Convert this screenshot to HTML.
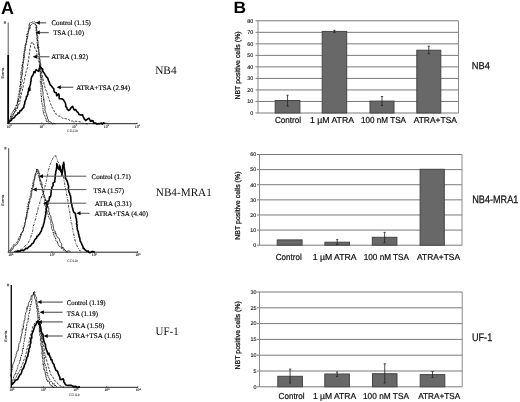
<!DOCTYPE html>
<html><head><meta charset="utf-8"><style>
html,body{margin:0;padding:0;background:#fff;width:520px;height:402px;overflow:hidden}
svg{display:block;filter:grayscale(1) blur(0.25px)}
</style></head><body>
<svg text-rendering="geometricPrecision" width="520" height="402" viewBox="0 0 520 402">
<rect width="520" height="402" fill="#fff"/>
<text x="0.9" y="13.5" textLength="12.9" lengthAdjust="spacingAndGlyphs" style="font-family:'Liberation Sans',sans-serif;font-weight:bold;font-size:18px">A</text>
<text x="233.4" y="13.1" textLength="12.6" lengthAdjust="spacingAndGlyphs" style="font-family:'Liberation Sans',sans-serif;font-weight:bold;font-size:16.5px">B</text>
<line x1="255.5" y1="113.00" x2="458.5" y2="113.00" stroke="#7a7a7a" stroke-width="1"/>
<text x="253.2" y="114.80" text-anchor="end" style="font-family:'Liberation Sans',sans-serif;font-size:5.4px" fill="#111" stroke="#111" stroke-width="0.12">0</text>
<line x1="255.5" y1="101.47" x2="458.5" y2="101.47" stroke="#7a7a7a" stroke-width="1"/>
<text x="253.2" y="103.27" text-anchor="end" style="font-family:'Liberation Sans',sans-serif;font-size:5.4px" fill="#111" stroke="#111" stroke-width="0.12">10</text>
<line x1="255.5" y1="89.95" x2="458.5" y2="89.95" stroke="#7a7a7a" stroke-width="1"/>
<text x="253.2" y="91.75" text-anchor="end" style="font-family:'Liberation Sans',sans-serif;font-size:5.4px" fill="#111" stroke="#111" stroke-width="0.12">20</text>
<line x1="255.5" y1="78.42" x2="458.5" y2="78.42" stroke="#7a7a7a" stroke-width="1"/>
<text x="253.2" y="80.22" text-anchor="end" style="font-family:'Liberation Sans',sans-serif;font-size:5.4px" fill="#111" stroke="#111" stroke-width="0.12">30</text>
<line x1="255.5" y1="66.90" x2="458.5" y2="66.90" stroke="#7a7a7a" stroke-width="1"/>
<text x="253.2" y="68.70" text-anchor="end" style="font-family:'Liberation Sans',sans-serif;font-size:5.4px" fill="#111" stroke="#111" stroke-width="0.12">40</text>
<line x1="255.5" y1="55.38" x2="458.5" y2="55.38" stroke="#7a7a7a" stroke-width="1"/>
<text x="253.2" y="57.17" text-anchor="end" style="font-family:'Liberation Sans',sans-serif;font-size:5.4px" fill="#111" stroke="#111" stroke-width="0.12">50</text>
<line x1="255.5" y1="43.85" x2="458.5" y2="43.85" stroke="#7a7a7a" stroke-width="1"/>
<text x="253.2" y="45.65" text-anchor="end" style="font-family:'Liberation Sans',sans-serif;font-size:5.4px" fill="#111" stroke="#111" stroke-width="0.12">60</text>
<line x1="255.5" y1="32.33" x2="458.5" y2="32.33" stroke="#7a7a7a" stroke-width="1"/>
<text x="253.2" y="34.12" text-anchor="end" style="font-family:'Liberation Sans',sans-serif;font-size:5.4px" fill="#111" stroke="#111" stroke-width="0.12">70</text>
<line x1="255.5" y1="20.80" x2="458.5" y2="20.80" stroke="#7a7a7a" stroke-width="1"/>
<text x="253.2" y="22.60" text-anchor="end" style="font-family:'Liberation Sans',sans-serif;font-size:5.4px" fill="#111" stroke="#111" stroke-width="0.12">80</text>
<line x1="258" y1="20.8" x2="258" y2="113" stroke="#8a8a8a" stroke-width="1"/>
<line x1="458.5" y1="20.8" x2="458.5" y2="113" stroke="#8a8a8a" stroke-width="1"/>
<rect x="275.2" y="100.5" width="24.69999999999999" height="12.5" fill="#686868" stroke="#454545" stroke-width="1"/>
<line x1="287.54999999999995" y1="95.2" x2="287.54999999999995" y2="106" stroke="#222" stroke-width="0.8"/>
<line x1="286.44999999999993" y1="95.2" x2="288.65" y2="95.2" stroke="#222" stroke-width="0.8"/>
<line x1="286.44999999999993" y1="106" x2="288.65" y2="106" stroke="#222" stroke-width="0.8"/>
<rect x="322.2" y="31.4" width="24.5" height="81.6" fill="#686868" stroke="#454545" stroke-width="1"/>
<line x1="334.45" y1="30.3" x2="334.45" y2="32.5" stroke="#222" stroke-width="0.8"/>
<line x1="333.34999999999997" y1="30.3" x2="335.55" y2="30.3" stroke="#222" stroke-width="0.8"/>
<line x1="333.34999999999997" y1="32.5" x2="335.55" y2="32.5" stroke="#222" stroke-width="0.8"/>
<rect x="370" y="101.1" width="24" height="11.900000000000006" fill="#686868" stroke="#454545" stroke-width="1"/>
<line x1="382.0" y1="96.5" x2="382.0" y2="105.5" stroke="#222" stroke-width="0.8"/>
<line x1="380.9" y1="96.5" x2="383.1" y2="96.5" stroke="#222" stroke-width="0.8"/>
<line x1="380.9" y1="105.5" x2="383.1" y2="105.5" stroke="#222" stroke-width="0.8"/>
<rect x="416.8" y="50.2" width="24.0" height="62.8" fill="#686868" stroke="#454545" stroke-width="1"/>
<line x1="428.8" y1="46.2" x2="428.8" y2="53.7" stroke="#222" stroke-width="0.8"/>
<line x1="427.7" y1="46.2" x2="429.90000000000003" y2="46.2" stroke="#222" stroke-width="0.8"/>
<line x1="427.7" y1="53.7" x2="429.90000000000003" y2="53.7" stroke="#222" stroke-width="0.8"/>
<text x="274.9" y="122.5" textLength="26.2" lengthAdjust="spacingAndGlyphs" style="font-family:'Liberation Sans',sans-serif;font-size:8.7px" fill="#111" stroke="#111" stroke-width="0.22">Control</text>
<text x="310.0" y="122.5" textLength="44.0" lengthAdjust="spacingAndGlyphs" style="font-family:'Liberation Sans',sans-serif;font-size:8.7px" fill="#111" stroke="#111" stroke-width="0.22">1 µM ATRA</text>
<text x="361.0" y="122.5" textLength="45.0" lengthAdjust="spacingAndGlyphs" style="font-family:'Liberation Sans',sans-serif;font-size:8.7px" fill="#111" stroke="#111" stroke-width="0.22">100 nM TSA</text>
<text x="413.7" y="122.5" textLength="43.2" lengthAdjust="spacingAndGlyphs" style="font-family:'Liberation Sans',sans-serif;font-size:8.7px" fill="#111" stroke="#111" stroke-width="0.22">ATRA+TSA</text>
<text transform="translate(240.2,99.6) rotate(-90)" textLength="68.3" lengthAdjust="spacingAndGlyphs" style="font-family:'Liberation Sans',sans-serif;font-size:7.1px" fill="#111" stroke="#111" stroke-width="0.25">NBT positive cells (%)</text>
<line x1="257.0" y1="245.20" x2="462" y2="245.20" stroke="#7a7a7a" stroke-width="1"/>
<text x="256.2" y="247.00" text-anchor="end" style="font-family:'Liberation Sans',sans-serif;font-size:5.4px" fill="#111" stroke="#111" stroke-width="0.12">0</text>
<line x1="257.0" y1="230.08" x2="462" y2="230.08" stroke="#7a7a7a" stroke-width="1"/>
<text x="256.2" y="231.88" text-anchor="end" style="font-family:'Liberation Sans',sans-serif;font-size:5.4px" fill="#111" stroke="#111" stroke-width="0.12">10</text>
<line x1="257.0" y1="214.97" x2="462" y2="214.97" stroke="#7a7a7a" stroke-width="1"/>
<text x="256.2" y="216.77" text-anchor="end" style="font-family:'Liberation Sans',sans-serif;font-size:5.4px" fill="#111" stroke="#111" stroke-width="0.12">20</text>
<line x1="257.0" y1="199.85" x2="462" y2="199.85" stroke="#7a7a7a" stroke-width="1"/>
<text x="256.2" y="201.65" text-anchor="end" style="font-family:'Liberation Sans',sans-serif;font-size:5.4px" fill="#111" stroke="#111" stroke-width="0.12">30</text>
<line x1="257.0" y1="184.73" x2="462" y2="184.73" stroke="#7a7a7a" stroke-width="1"/>
<text x="256.2" y="186.53" text-anchor="end" style="font-family:'Liberation Sans',sans-serif;font-size:5.4px" fill="#111" stroke="#111" stroke-width="0.12">40</text>
<line x1="257.0" y1="169.62" x2="462" y2="169.62" stroke="#7a7a7a" stroke-width="1"/>
<text x="256.2" y="171.42" text-anchor="end" style="font-family:'Liberation Sans',sans-serif;font-size:5.4px" fill="#111" stroke="#111" stroke-width="0.12">50</text>
<line x1="257.0" y1="154.50" x2="462" y2="154.50" stroke="#7a7a7a" stroke-width="1"/>
<text x="256.2" y="156.30" text-anchor="end" style="font-family:'Liberation Sans',sans-serif;font-size:5.4px" fill="#111" stroke="#111" stroke-width="0.12">60</text>
<line x1="259.5" y1="154.5" x2="259.5" y2="245.2" stroke="#8a8a8a" stroke-width="1"/>
<line x1="462" y1="154.5" x2="462" y2="245.2" stroke="#8a8a8a" stroke-width="1"/>
<rect x="277.2" y="239.9" width="24.900000000000034" height="5.299999999999983" fill="#686868" stroke="#454545" stroke-width="1"/>
<rect x="324.9" y="242.2" width="24.600000000000023" height="3.0" fill="#686868" stroke="#454545" stroke-width="1"/>
<line x1="337.2" y1="239.6" x2="337.2" y2="244.5" stroke="#222" stroke-width="0.8"/>
<line x1="336.09999999999997" y1="239.6" x2="338.3" y2="239.6" stroke="#222" stroke-width="0.8"/>
<line x1="336.09999999999997" y1="244.5" x2="338.3" y2="244.5" stroke="#222" stroke-width="0.8"/>
<rect x="372.3" y="237.3" width="24.599999999999966" height="7.899999999999977" fill="#686868" stroke="#454545" stroke-width="1"/>
<line x1="384.6" y1="232.4" x2="384.6" y2="242.7" stroke="#222" stroke-width="0.8"/>
<line x1="383.5" y1="232.4" x2="385.70000000000005" y2="232.4" stroke="#222" stroke-width="0.8"/>
<line x1="383.5" y1="242.7" x2="385.70000000000005" y2="242.7" stroke="#222" stroke-width="0.8"/>
<rect x="420.1" y="169.3" width="24.19999999999999" height="75.89999999999998" fill="#686868" stroke="#454545" stroke-width="1"/>
<text x="275.8" y="260.4" textLength="25.9" lengthAdjust="spacingAndGlyphs" style="font-family:'Liberation Sans',sans-serif;font-size:8.7px" fill="#111" stroke="#111" stroke-width="0.22">Control</text>
<text x="312.7" y="260.4" textLength="43.8" lengthAdjust="spacingAndGlyphs" style="font-family:'Liberation Sans',sans-serif;font-size:8.7px" fill="#111" stroke="#111" stroke-width="0.22">1 µM ATRA</text>
<text x="363.8" y="260.4" textLength="45.2" lengthAdjust="spacingAndGlyphs" style="font-family:'Liberation Sans',sans-serif;font-size:8.7px" fill="#111" stroke="#111" stroke-width="0.22">100 nM TSA</text>
<text x="417.1" y="260.4" textLength="42.9" lengthAdjust="spacingAndGlyphs" style="font-family:'Liberation Sans',sans-serif;font-size:8.7px" fill="#111" stroke="#111" stroke-width="0.22">ATRA+TSA</text>
<text transform="translate(240.2,239.8) rotate(-90)" textLength="68.3" lengthAdjust="spacingAndGlyphs" style="font-family:'Liberation Sans',sans-serif;font-size:7.1px" fill="#111" stroke="#111" stroke-width="0.25">NBT positive cells (%)</text>
<line x1="257.0" y1="386.80" x2="462.2" y2="386.80" stroke="#7a7a7a" stroke-width="1"/>
<text x="256.5" y="388.60" text-anchor="end" style="font-family:'Liberation Sans',sans-serif;font-size:5.4px" fill="#111" stroke="#111" stroke-width="0.12">0</text>
<line x1="257.0" y1="371.00" x2="462.2" y2="371.00" stroke="#7a7a7a" stroke-width="1"/>
<text x="256.5" y="372.80" text-anchor="end" style="font-family:'Liberation Sans',sans-serif;font-size:5.4px" fill="#111" stroke="#111" stroke-width="0.12">5</text>
<line x1="257.0" y1="355.20" x2="462.2" y2="355.20" stroke="#7a7a7a" stroke-width="1"/>
<text x="256.5" y="357.00" text-anchor="end" style="font-family:'Liberation Sans',sans-serif;font-size:5.4px" fill="#111" stroke="#111" stroke-width="0.12">10</text>
<line x1="257.0" y1="339.40" x2="462.2" y2="339.40" stroke="#7a7a7a" stroke-width="1"/>
<text x="256.5" y="341.20" text-anchor="end" style="font-family:'Liberation Sans',sans-serif;font-size:5.4px" fill="#111" stroke="#111" stroke-width="0.12">15</text>
<line x1="257.0" y1="323.60" x2="462.2" y2="323.60" stroke="#7a7a7a" stroke-width="1"/>
<text x="256.5" y="325.40" text-anchor="end" style="font-family:'Liberation Sans',sans-serif;font-size:5.4px" fill="#111" stroke="#111" stroke-width="0.12">20</text>
<line x1="257.0" y1="307.80" x2="462.2" y2="307.80" stroke="#7a7a7a" stroke-width="1"/>
<text x="256.5" y="309.60" text-anchor="end" style="font-family:'Liberation Sans',sans-serif;font-size:5.4px" fill="#111" stroke="#111" stroke-width="0.12">25</text>
<line x1="257.0" y1="292.00" x2="462.2" y2="292.00" stroke="#7a7a7a" stroke-width="1"/>
<text x="256.5" y="293.80" text-anchor="end" style="font-family:'Liberation Sans',sans-serif;font-size:5.4px" fill="#111" stroke="#111" stroke-width="0.12">30</text>
<line x1="259.5" y1="292" x2="259.5" y2="386.8" stroke="#8a8a8a" stroke-width="1"/>
<line x1="462.2" y1="292" x2="462.2" y2="386.8" stroke="#8a8a8a" stroke-width="1"/>
<rect x="277.8" y="376.3" width="24.599999999999966" height="10.5" fill="#686868" stroke="#454545" stroke-width="1"/>
<line x1="290.1" y1="369.1" x2="290.1" y2="383" stroke="#222" stroke-width="0.8"/>
<line x1="289.0" y1="369.1" x2="291.20000000000005" y2="369.1" stroke="#222" stroke-width="0.8"/>
<line x1="289.0" y1="383" x2="291.20000000000005" y2="383" stroke="#222" stroke-width="0.8"/>
<rect x="324.8" y="374" width="24.599999999999966" height="12.800000000000011" fill="#686868" stroke="#454545" stroke-width="1"/>
<line x1="337.1" y1="372" x2="337.1" y2="376.5" stroke="#222" stroke-width="0.8"/>
<line x1="336.0" y1="372" x2="338.20000000000005" y2="372" stroke="#222" stroke-width="0.8"/>
<line x1="336.0" y1="376.5" x2="338.20000000000005" y2="376.5" stroke="#222" stroke-width="0.8"/>
<rect x="372.5" y="373.7" width="24.5" height="13.100000000000023" fill="#686868" stroke="#454545" stroke-width="1"/>
<line x1="384.75" y1="363.8" x2="384.75" y2="383" stroke="#222" stroke-width="0.8"/>
<line x1="383.65" y1="363.8" x2="385.85" y2="363.8" stroke="#222" stroke-width="0.8"/>
<line x1="383.65" y1="383" x2="385.85" y2="383" stroke="#222" stroke-width="0.8"/>
<rect x="420.2" y="374.6" width="24.600000000000023" height="12.199999999999989" fill="#686868" stroke="#454545" stroke-width="1"/>
<line x1="432.5" y1="371.5" x2="432.5" y2="377.5" stroke="#222" stroke-width="0.8"/>
<line x1="431.4" y1="371.5" x2="433.6" y2="371.5" stroke="#222" stroke-width="0.8"/>
<line x1="431.4" y1="377.5" x2="433.6" y2="377.5" stroke="#222" stroke-width="0.8"/>
<text x="278.6" y="399.4" textLength="26.0" lengthAdjust="spacingAndGlyphs" style="font-family:'Liberation Sans',sans-serif;font-size:8.7px" fill="#111" stroke="#111" stroke-width="0.22">Control</text>
<text x="313.0" y="399.4" textLength="43.2" lengthAdjust="spacingAndGlyphs" style="font-family:'Liberation Sans',sans-serif;font-size:8.7px" fill="#111" stroke="#111" stroke-width="0.22">1 µM ATRA</text>
<text x="363" y="399.4" textLength="46.0" lengthAdjust="spacingAndGlyphs" style="font-family:'Liberation Sans',sans-serif;font-size:8.7px" fill="#111" stroke="#111" stroke-width="0.22">100 nM TSA</text>
<text x="418.2" y="399.4" textLength="42.1" lengthAdjust="spacingAndGlyphs" style="font-family:'Liberation Sans',sans-serif;font-size:8.7px" fill="#111" stroke="#111" stroke-width="0.22">ATRA+TSA</text>
<text transform="translate(240.2,369.5) rotate(-90)" textLength="68.3" lengthAdjust="spacingAndGlyphs" style="font-family:'Liberation Sans',sans-serif;font-size:7.1px" fill="#111" stroke="#111" stroke-width="0.25">NBT positive cells (%)</text>
<text x="471.8" y="69.3" textLength="18.2" lengthAdjust="spacingAndGlyphs" style="font-family:'Liberation Sans',sans-serif;font-size:9.95px" fill="#111" stroke="#111" stroke-width="0.25">NB4</text>
<text x="472.2" y="202.8" textLength="46.2" lengthAdjust="spacingAndGlyphs" style="font-family:'Liberation Sans',sans-serif;font-size:10.8px" fill="#111" stroke="#111" stroke-width="0.25">NB4-MRA1</text>
<text x="472.0" y="340.9" textLength="20.2" lengthAdjust="spacingAndGlyphs" style="font-family:'Liberation Sans',sans-serif;font-size:11px" fill="#111" stroke="#111" stroke-width="0.25">UF-1</text>
<line x1="8.2" y1="22.5" x2="8.2" y2="123.7" stroke="#555" stroke-width="1.0"/>
<line x1="7.199999999999999" y1="123.7" x2="137.3" y2="123.7" stroke="#222" stroke-width="1"/>
<text x="9.200000000000001" y="127.60000000000001" text-anchor="middle" style="font-family:'Liberation Serif',serif;font-size:3.8px" fill="#111" stroke="#111" stroke-width="0.1">10<tspan dy="-1.3" font-size="2.6px">0</tspan></text>
<line x1="8.9" y1="123.7" x2="8.9" y2="122.4" stroke="#222" stroke-width="0.6"/>
<text x="42.0" y="127.60000000000001" text-anchor="middle" style="font-family:'Liberation Serif',serif;font-size:3.8px" fill="#111" stroke="#111" stroke-width="0.1">10<tspan dy="-1.3" font-size="2.6px">1</tspan></text>
<line x1="41.7" y1="123.7" x2="41.7" y2="122.4" stroke="#222" stroke-width="0.6"/>
<text x="74.5" y="127.60000000000001" text-anchor="middle" style="font-family:'Liberation Serif',serif;font-size:3.8px" fill="#111" stroke="#111" stroke-width="0.1">10<tspan dy="-1.3" font-size="2.6px">2</tspan></text>
<line x1="74.2" y1="123.7" x2="74.2" y2="122.4" stroke="#222" stroke-width="0.6"/>
<text x="106.3" y="127.60000000000001" text-anchor="middle" style="font-family:'Liberation Serif',serif;font-size:3.8px" fill="#111" stroke="#111" stroke-width="0.1">10<tspan dy="-1.3" font-size="2.6px">3</tspan></text>
<line x1="106" y1="123.7" x2="106" y2="122.4" stroke="#222" stroke-width="0.6"/>
<text x="137.3" y="127.60000000000001" text-anchor="middle" style="font-family:'Liberation Serif',serif;font-size:3.8px" fill="#111" stroke="#111" stroke-width="0.1">10<tspan dy="-1.3" font-size="2.6px">4</tspan></text>
<line x1="137" y1="123.7" x2="137" y2="122.4" stroke="#222" stroke-width="0.6"/>
<text x="72.5" y="132" text-anchor="middle" style="font-family:'Liberation Sans',sans-serif;font-size:3.6px" fill="#222">CD11b</text>
<text transform="translate(3.499999999999999,73.1) rotate(-90)" text-anchor="middle" style="font-family:'Liberation Sans',sans-serif;font-size:3.6px" fill="#111" stroke="#111" stroke-width="0.1">Events</text>
<rect x="3.799999999999999" y="21.2" width="2.2" height="2.6" fill="#777"/>
<line x1="8.2" y1="55" x2="8.2" y2="123.7" stroke="#000" stroke-width="1.7"/>
<polyline points="10.0,122.0 10.5,120.4 10.9,119.7 10.9,119.3 12.0,116.9 11.8,116.5 12.5,117.1 13.0,115.7 13.2,114.3 14.3,113.3 14.7,112.1 14.6,111.4 15.5,110.6 15.4,108.6 16.2,108.8 17.0,107.5 17.5,106.5 17.8,104.8 18.1,103.9 17.6,103.8 17.9,101.2 18.3,102.0 18.4,100.3 18.7,99.0 19.1,97.7 19.6,97.2 19.7,96.4 20.0,95.8 19.4,94.4 20.3,93.8 20.1,92.9 19.9,91.5 20.4,90.7 20.1,88.5 21.1,88.8 21.1,86.1 20.6,85.8 21.3,84.5 20.8,84.8 21.0,83.3 21.4,82.5 22.1,81.8 22.2,80.0 21.5,78.6 21.5,78.2 21.9,76.3 21.7,76.2 22.4,74.0 22.6,73.6 22.1,73.9 22.3,71.9 22.5,71.3 22.6,70.1 22.6,70.0 22.9,67.8 22.7,66.4 23.0,67.1 22.6,65.1 23.3,63.8 23.4,61.9 23.0,62.3 23.5,61.3 23.5,60.4 24.0,59.5 23.6,56.9 24.5,57.4 24.2,55.5 24.2,55.2 24.3,53.7 24.7,52.7 24.7,51.6 24.5,51.6 25.3,50.2 25.0,48.6 25.2,48.7 25.5,46.3 25.4,46.4 25.8,44.6 26.1,44.7 26.1,43.8 26.7,41.6 26.7,41.8 26.6,39.4 26.9,39.1 27.6,38.7 27.3,36.3 27.8,36.7 27.8,35.7 28.0,33.1 28.2,33.5 28.5,31.5 28.8,30.6 28.8,30.7 29.7,27.6 30.0,28.5 30.2,26.5 29.8,26.5 30.6,25.0 31.7,24.5 32.9,23.3 33.7,23.3 34.9,24.1 35.8,24.7 36.5,25.9 36.7,26.9 36.5,27.9 36.8,26.9 36.5,28.3 36.7,30.4 37.2,30.8 36.8,32.2 37.3,32.5 37.4,33.9 37.0,34.7 37.6,36.1 37.7,36.3 37.8,38.9 37.2,39.7 38.1,40.3 37.7,40.0 38.0,41.5 38.1,42.8 37.8,44.6 38.0,44.0 38.0,45.2 38.8,48.0 38.6,47.1 38.5,48.6 38.9,49.7 38.8,51.2 38.8,51.3 39.2,52.2 39.1,54.5 39.1,54.1 39.6,55.7 39.5,57.6 39.8,58.7 39.7,58.8 40.1,60.0 40.3,60.8 40.0,61.9 40.5,63.1 40.3,63.1 40.8,64.8 40.4,67.0 40.9,67.9 40.6,67.5 41.0,68.2 41.2,70.4 41.1,71.6 41.1,72.5 41.2,72.1 40.8,72.9 40.8,75.6 40.9,75.1 41.1,77.8 41.8,77.0 41.8,78.2 41.9,80.4 41.8,82.0 41.4,82.7 41.9,83.6 41.7,84.6 42.5,85.6 42.1,85.2 42.6,87.3 42.2,87.6 42.7,88.6 42.6,90.8 42.7,90.9 42.8,91.9 43.0,92.3 43.0,95.3 42.9,95.8 43.6,96.7 43.5,97.7 43.7,98.3 43.4,100.2 44.0,99.5 44.0,102.3 44.3,102.2 44.0,102.7 44.4,103.7 44.2,105.0 45.0,106.8 44.9,107.0 45.2,108.3 44.9,109.8 44.9,110.0 45.5,111.7 45.6,112.1 46.2,113.5 46.6,114.2 46.7,116.0 47.4,117.0 47.6,118.9 48.2,119.2 48.4,121.1 49.7,121.6 49.8,121.7 50.9,122.0 51.9,123.7 52.5,124.3 53.8,123.1 55.3,124.0" fill="none" stroke="#1a1a1a" stroke-width="0.8"/>
<polyline points="9.0,121.0 9.6,119.2 10.1,119.7 10.5,117.3 10.5,116.3 10.6,116.2 11.6,113.7 11.8,113.2 12.7,112.9 13.0,110.7 13.8,110.8 14.4,109.3 14.7,109.9 14.9,108.1 15.9,106.5 16.5,105.1 16.1,105.9 16.6,104.9 17.2,103.5 17.4,101.4 17.8,101.1 18.0,99.2 18.2,99.7 17.8,97.7 18.2,96.6 18.7,96.1 18.4,94.7 19.0,93.8 19.4,91.7 18.9,91.7 19.1,91.3 19.8,88.9 19.8,88.5 19.9,87.6 19.8,85.8 20.5,84.2 20.5,84.7 20.4,83.6 20.5,81.5 20.2,81.8 20.5,79.9 20.6,79.5 20.7,77.5 21.1,76.9 21.2,75.4 20.7,73.8 20.7,72.8 21.4,73.2 21.1,70.9 21.7,70.4 21.9,70.2 21.5,68.7 21.7,67.2 22.2,66.4 22.0,64.7 22.0,64.9 22.9,64.0 22.6,63.3 22.9,61.4 23.4,60.6 23.0,59.7 23.3,59.1 23.6,57.5 23.8,55.2 23.7,55.7 23.8,54.4 24.0,52.6 24.2,51.3 24.3,51.6 24.9,50.4 24.3,50.2 24.9,48.9 24.9,46.3 24.8,45.7 25.7,45.3 25.9,43.8 25.4,43.6 26.0,43.0 26.3,42.1 26.1,40.7 26.9,39.8 26.6,38.9 26.8,37.6 26.6,35.2 27.0,34.1 27.4,33.3 27.6,33.4 28.0,31.8 28.0,30.6 28.2,30.6 28.9,28.4 28.6,28.6 29.0,26.8 29.0,26.4 29.2,24.1 29.4,24.8 29.6,23.1 30.6,22.4 31.7,22.7 32.7,21.8 34.0,22.1 34.6,21.8 35.9,22.7 35.6,24.3 36.0,24.6 36.5,24.8 35.8,26.3 35.9,27.9 36.1,29.2 35.9,29.2 36.2,31.5 36.4,32.6 36.4,34.0 36.5,33.4 36.9,35.7 36.5,35.7 37.3,37.4 36.6,38.2 36.7,38.0 36.8,39.3 37.4,40.0 37.1,42.9 37.4,44.0 37.9,44.7 37.2,46.0 37.8,45.6 37.4,48.0 38.2,47.5 38.0,48.2 38.4,49.6 38.1,51.9 38.8,52.5 38.8,53.7 38.8,54.9 38.8,54.8 39.2,56.6 39.1,56.5 39.5,58.5 39.4,59.5 39.3,60.0 39.2,61.5 39.9,61.9 39.4,63.4 40.1,63.4 40.2,65.3 39.8,66.8 40.1,67.9 39.9,67.6 40.0,68.1 39.8,71.0 39.8,71.2 40.3,71.1 39.9,72.4 40.5,73.2 40.0,75.2 40.9,75.4 40.6,76.4 40.8,77.9 40.8,79.4 40.3,80.3 40.3,80.6 40.4,83.1 41.2,82.4 41.1,83.8 40.8,84.6 41.1,86.0 41.0,88.0 41.3,89.3 41.1,89.4 40.7,90.6 41.2,92.5 40.9,93.4 41.2,93.8 40.9,95.3 41.4,95.4 41.5,95.8 41.4,98.3 41.6,99.1 41.5,99.2 41.6,102.0 41.6,101.8 41.8,102.4 42.4,105.0 42.8,106.0 42.9,106.5 42.6,107.4 43.2,109.3 43.0,110.4 43.1,111.1 43.8,112.6 44.1,112.0 43.6,112.8 44.0,115.0 44.6,115.5 44.9,115.5 45.1,117.1 45.8,118.3 45.9,120.2 46.4,119.9 46.6,121.6 48.2,121.8 49.4,123.7 50.0,124.0" fill="none" stroke="#000" stroke-width="1" stroke-dasharray="1 0.8"/>
<polyline points="10.1,117.0 11.2,116.7 11.8,115.0 12.9,114.1 13.8,113.4 14.7,112.3 15.2,111.2 16.1,110.9 16.6,109.2 17.2,108.9 17.9,106.8 18.2,106.1 18.8,104.3 19.4,103.9 20.0,103.0 19.9,101.8 20.1,99.6 20.5,98.7 20.8,97.0 20.9,95.8 21.4,94.8 21.4,93.8 21.7,92.1 22.1,91.6 22.4,90.7 22.4,88.7 22.9,88.1 23.2,86.6 23.2,85.4 23.3,83.7 23.9,83.1 24.0,82.1 24.4,80.6 24.5,79.6 24.7,77.9 24.8,76.4 25.5,75.8 25.4,74.5 25.7,73.0 26.0,72.4 26.2,71.4 26.7,69.4 27.2,68.4 27.6,67.7 27.4,66.1 27.8,64.8 27.9,63.3 28.3,62.3 28.4,60.3 28.5,59.3 28.9,58.6 28.8,57.0 28.9,56.0 29.4,54.1 29.3,52.7 29.8,52.1 29.8,50.1 29.8,48.7 30.5,47.3 30.5,45.7 30.7,44.4 31.3,43.4 32.4,41.9 33.2,43.8 34.0,44.3 34.1,45.2 34.5,46.8 34.8,48.1 35.7,49.1 36.1,50.4 36.6,51.9 36.9,53.9 37.0,54.7 37.4,56.9 38.2,57.6 38.1,59.8 38.7,61.2 38.8,61.9 39.6,63.2 39.5,64.4 39.8,65.6 40.5,67.1 40.4,68.1 41.1,70.4 41.0,71.7 41.6,72.3 41.8,73.7 41.8,74.8 42.4,76.1 42.6,77.8 42.9,78.7 43.2,79.9 43.4,81.6 44.0,82.6 43.9,84.1 44.6,85.5 44.6,85.8 44.9,87.1 45.5,89.4 45.8,90.5 46.6,90.8 47.1,93.1 47.3,94.2 47.5,95.6 48.1,96.6 48.6,97.5 49.0,99.0 49.3,100.3 49.9,101.6 50.5,103.7 50.9,104.8 51.5,105.2 51.6,106.3 52.4,107.7 52.9,108.6 53.6,109.6 53.9,110.9 54.7,112.0 55.3,113.6 56.2,113.9 57.0,114.5 58.5,116.2 60.0,116.0 61.5,117.3 62.6,118.2 64.1,118.6 65.3,118.5 66.2,119.0 67.5,118.6 68.7,119.5 70.2,120.7 71.2,121.0 72.7,121.0 74.0,121.8 75.6,121.2 76.9,121.4 78.8,121.7 80.1,121.7 81.4,122.6 82.5,123.2 83.6,123.4 85.1,123.9 86.8,123.7 88.0,124.0" fill="none" stroke="#222" stroke-width="0.9" stroke-dasharray="2.5 1.3"/>
<polyline points="8.9,122.5 9.9,120.9 11.4,120.5 12.2,118.4 13.5,118.0 14.5,117.5 15.5,115.4 16.5,114.9 17.5,114.2 18.0,112.9 19.3,112.9 20.1,110.5 21.3,110.7 22.6,108.4 23.3,107.8 23.9,107.3 24.0,105.1 24.7,104.1 24.8,102.1 25.4,100.5 26.0,99.2 26.2,98.8 26.4,96.8 27.2,96.3 27.3,95.2 27.9,94.7 27.9,92.5 28.6,90.6 28.6,88.9 28.7,88.2 29.8,90.4 29.9,89.2 29.6,86.7 30.0,85.7 30.5,83.9 30.7,82.5 30.6,82.4 31.0,81.0 31.2,78.5 31.7,76.8 32.2,75.8 32.7,75.8 33.5,73.5 34.0,71.5 35.1,72.6 35.2,71.6 35.9,70.2 36.2,69.6 37.3,70.6 38.7,71.3 39.1,69.2 39.4,68.3 39.8,67.4 39.8,65.9 41.1,67.6 41.7,68.3 42.7,69.1 42.7,71.1 43.7,72.5 44.2,73.1 45.2,74.8 46.0,76.3 47.0,77.5 47.7,78.0 48.5,80.8 49.2,81.8 49.5,83.1 50.2,84.8 51.2,85.7 53.0,88.1 53.8,88.7 54.0,90.8 54.7,92.3 55.9,92.7 56.4,92.7 56.5,95.0 56.9,95.8 58.0,94.4 58.7,93.9 59.0,94.5 59.2,96.2 59.1,97.3 59.2,98.6 60.5,98.8 62.2,98.9 63.7,100.1 64.8,102.0 65.7,104.0 65.7,106.0 65.7,106.6 66.7,107.4 67.4,109.4 68.5,110.4 69.2,110.1 69.9,109.7 70.9,107.9 72.6,106.3 73.7,109.0 74.5,110.1 75.8,109.6 76.9,111.6 78.0,112.4 78.5,113.5 79.1,114.5 81.0,115.1 82.6,114.8 83.1,116.6 83.8,117.7 84.3,119.0 85.2,119.7 85.5,120.6 87.3,119.3 88.9,118.3 89.9,119.8 90.7,121.4 91.5,120.6 93.2,120.9 93.8,123.4 95.7,123.0 96.6,123.9 97.6,123.9 99.1,123.6 100.0,123.7 101.5,123.0 102.4,124.2 103.5,122.8 105.0,123.6" fill="none" stroke="#000" stroke-width="1.6" stroke-linejoin="round"/>
<line x1="38.6" y1="22.8" x2="46.2" y2="22.8" stroke="#6a6a6a" stroke-width="1.3"/>
<polygon points="35.6,22.8 39.800000000000004,20.8 39.800000000000004,24.8" fill="#000"/>
<text x="51.5" y="24.8" textLength="39.4" lengthAdjust="spacingAndGlyphs" style="font-family:'Liberation Serif',serif;font-size:7px" fill="#000" stroke="#000" stroke-width="0.15">Control (1.15)</text>
<line x1="38.6" y1="32.6" x2="48.8" y2="32.6" stroke="#6a6a6a" stroke-width="1.3"/>
<polygon points="35.6,32.6 39.800000000000004,30.6 39.800000000000004,34.6" fill="#000"/>
<text x="53.2" y="34.8" textLength="30.9" lengthAdjust="spacingAndGlyphs" style="font-family:'Liberation Serif',serif;font-size:7px" fill="#000" stroke="#000" stroke-width="0.15">TSA (1.10)</text>
<line x1="35.7" y1="56.7" x2="49.5" y2="56.7" stroke="#6a6a6a" stroke-width="1.3"/>
<polygon points="32.7,56.7 36.900000000000006,54.7 36.900000000000006,58.7" fill="#000"/>
<text x="51.3" y="58.6" textLength="36.8" lengthAdjust="spacingAndGlyphs" style="font-family:'Liberation Serif',serif;font-size:7px" fill="#000" stroke="#000" stroke-width="0.15">ATRA (1.92)</text>
<line x1="59.6" y1="87.3" x2="73.4" y2="87.3" stroke="#6a6a6a" stroke-width="1.3"/>
<polygon points="56.6,87.3 60.800000000000004,85.3 60.800000000000004,89.3" fill="#000"/>
<text x="76.2" y="89.5" textLength="53.8" lengthAdjust="spacingAndGlyphs" style="font-family:'Liberation Serif',serif;font-size:7px" fill="#000" stroke="#000" stroke-width="0.15">ATRA+TSA (2.94)</text>
<text x="155.2" y="73.7" textLength="21.4" lengthAdjust="spacingAndGlyphs" style="font-family:'Liberation Serif',serif;font-size:11.5px" fill="#111" >NB4</text>
<line x1="8.7" y1="148.2" x2="8.7" y2="252.2" stroke="#444" stroke-width="1.0"/>
<line x1="7.699999999999999" y1="252.2" x2="138" y2="252.2" stroke="#222" stroke-width="1"/>
<text x="10.700000000000001" y="256.09999999999997" text-anchor="middle" style="font-family:'Liberation Serif',serif;font-size:3.8px" fill="#111" stroke="#111" stroke-width="0.1">10<tspan dy="-1.3" font-size="2.6px">0</tspan></text>
<line x1="10.4" y1="252.2" x2="10.4" y2="250.89999999999998" stroke="#222" stroke-width="0.6"/>
<text x="52.3" y="256.09999999999997" text-anchor="middle" style="font-family:'Liberation Serif',serif;font-size:3.8px" fill="#111" stroke="#111" stroke-width="0.1">10<tspan dy="-1.3" font-size="2.6px">1</tspan></text>
<line x1="52" y1="252.2" x2="52" y2="250.89999999999998" stroke="#222" stroke-width="0.6"/>
<text x="94.3" y="256.09999999999997" text-anchor="middle" style="font-family:'Liberation Serif',serif;font-size:3.8px" fill="#111" stroke="#111" stroke-width="0.1">10<tspan dy="-1.3" font-size="2.6px">2</tspan></text>
<line x1="94" y1="252.2" x2="94" y2="250.89999999999998" stroke="#222" stroke-width="0.6"/>
<text x="138.0" y="256.09999999999997" text-anchor="middle" style="font-family:'Liberation Serif',serif;font-size:3.8px" fill="#111" stroke="#111" stroke-width="0.1">10<tspan dy="-1.3" font-size="2.6px">3</tspan></text>
<line x1="137.7" y1="252.2" x2="137.7" y2="250.89999999999998" stroke="#222" stroke-width="0.6"/>
<text x="72.8" y="261.5" text-anchor="middle" style="font-family:'Liberation Sans',sans-serif;font-size:3.6px" fill="#222">CD11b</text>
<text transform="translate(3.999999999999999,200.2) rotate(-90)" text-anchor="middle" style="font-family:'Liberation Sans',sans-serif;font-size:3.6px" fill="#111" stroke="#111" stroke-width="0.1">Events</text>
<rect x="4.299999999999999" y="146.89999999999998" width="2.2" height="2.6" fill="#777"/>
<polyline points="9.5,250.2 10.2,249.9 11.4,248.3 11.5,247.7 12.1,246.9 13.4,245.3 13.6,244.3 14.6,244.3 15.1,244.5 16.1,243.2 16.9,242.3 17.5,241.1 18.4,239.2 18.7,239.6 19.2,237.4 19.6,236.2 20.3,236.4 20.5,235.5 20.7,233.2 21.3,232.8 21.8,232.3 22.5,231.6 23.1,230.4 23.1,229.0 23.1,227.5 23.8,227.6 24.5,225.0 24.5,225.1 24.3,223.8 24.6,224.0 25.6,221.6 25.4,220.1 25.4,219.9 25.8,219.8 26.0,216.8 26.4,215.8 26.7,216.7 26.6,213.9 26.5,213.5 26.5,212.5 26.9,211.1 27.3,210.0 27.5,208.9 26.8,208.2 27.3,208.4 27.4,207.5 27.3,206.2 27.9,205.3 27.7,205.0 28.6,202.0 28.6,202.9 29.0,201.5 29.2,199.7 29.1,199.1 30.0,197.5 30.1,196.3 30.3,195.3 30.8,195.1 30.8,194.7 30.9,192.0 31.1,190.6 31.6,190.7 31.5,188.9 31.7,187.6 32.0,187.4 32.5,187.2 32.6,184.9 33.1,183.2 33.0,183.7 33.1,182.6 33.3,180.5 33.9,179.3 34.2,179.3 34.4,177.0 34.3,176.9 34.6,175.9 34.9,174.3 35.4,174.3 35.2,173.9 36.0,172.9 36.4,171.5 36.5,169.2 36.3,169.9 37.4,170.4 37.8,170.9 37.8,173.4 37.9,172.8 38.4,175.4 38.7,175.3 38.9,177.8 39.8,176.8 39.5,178.5 39.7,180.9 40.5,180.0 40.1,181.3 40.4,183.8 40.7,184.7 40.9,184.4 41.4,185.9 41.6,186.6 42.1,187.4 42.3,189.9 41.9,190.7 42.3,190.5 43.2,191.3 43.3,194.0 42.9,194.3 43.0,195.0 43.5,197.1 44.3,196.8 44.4,197.6 44.4,198.9 44.8,199.4 44.4,201.0 44.8,202.6 44.6,202.7 44.6,204.4 45.1,206.0 45.2,205.5 45.5,206.3 45.9,208.2 46.1,208.7 46.8,210.1 47.1,210.9 46.9,212.0 47.8,212.3 47.7,213.9 48.5,215.0 48.4,215.6 48.4,216.6 49.1,217.9 49.4,218.8 50.0,219.7 50.5,220.0 50.7,220.9 50.9,222.1 50.5,223.4 51.4,225.0 51.7,226.8 51.3,228.1 51.6,227.9 52.2,229.8 52.8,230.8 53.1,232.4 53.3,233.2 54.0,232.5 53.6,233.6 54.2,236.3 54.3,237.0 55.3,237.1 55.6,237.6 55.8,240.5 56.7,241.0 57.2,241.7 57.0,242.8 57.9,242.6 58.2,245.2 58.7,245.2 59.5,246.6 60.3,246.8 60.9,246.8 61.7,249.0 61.9,248.5 63.2,249.0 63.5,250.3 64.9,250.8 65.7,250.8 67.1,252.2 68.0,252.0" fill="none" stroke="#000" stroke-width="1" stroke-dasharray="1 0.8"/>
<polyline points="10.0,251.0 10.4,249.8 11.7,250.4 12.2,249.0 12.9,249.0 13.5,246.5 14.8,245.9 16.0,245.1 16.5,244.8 17.2,244.0 17.7,243.0 18.3,241.9 18.6,241.6 19.3,240.6 19.5,239.8 20.3,238.0 20.5,237.5 20.8,235.5 21.7,235.1 21.7,232.9 22.7,232.3 22.7,231.9 23.1,230.5 23.5,230.7 23.6,227.9 23.6,228.0 24.1,227.6 24.6,225.5 24.7,225.2 25.0,224.8 24.9,222.7 25.4,222.1 25.6,221.1 25.5,218.9 25.8,218.2 26.4,218.8 26.8,216.4 26.4,216.3 26.8,215.6 26.9,215.1 27.2,212.5 27.8,212.8 27.4,211.2 28.1,209.8 28.5,208.0 28.7,208.8 28.6,207.4 28.5,207.0 28.6,204.6 29.4,203.3 29.6,202.1 29.9,201.8 30.0,201.6 29.6,200.8 30.2,198.5 30.7,197.8 31.0,197.8 31.2,196.9 31.3,194.7 31.8,194.5 31.6,192.7 31.7,192.3 31.7,191.8 32.3,190.3 32.6,188.3 33.1,187.9 33.0,187.8 33.4,186.8 33.6,184.3 33.9,184.7 33.6,183.6 34.1,181.4 34.4,180.4 34.6,180.2 34.4,178.7 34.9,178.9 35.1,176.7 35.4,175.9 35.3,175.0 36.1,175.1 35.8,173.6 36.5,171.3 36.6,171.7 37.3,169.4 37.7,169.1 38.2,170.2 38.8,171.3 38.7,173.1 39.6,173.2 39.4,174.3 39.2,175.8 39.9,176.6 39.8,177.2 39.8,178.3 40.1,179.1 40.8,180.9 41.0,180.9 41.0,181.7 41.6,182.3 41.7,184.6 42.0,184.1 42.1,184.9 41.9,187.0 42.8,187.8 42.6,189.3 42.9,190.7 43.2,191.9 43.9,191.1 43.5,192.1 43.7,194.6 44.6,195.1 44.4,196.2 45.0,197.6 45.1,198.2 45.2,198.6 45.9,201.1 45.6,199.9 46.5,201.5 46.3,202.4 46.6,204.7 47.2,206.2 47.9,207.1 48.2,206.6 48.1,208.1 48.9,208.3 48.7,210.4 48.8,212.1 48.9,212.2 49.8,213.0 49.4,214.4 50.0,214.8 50.4,215.9 50.8,216.4 51.1,218.6 50.8,218.9 51.6,219.5 51.5,220.1 52.5,222.7 52.8,223.9 53.1,224.3 53.1,225.7 52.9,226.2 53.4,226.5 53.5,228.4 54.2,230.6 54.7,231.1 55.2,231.1 55.0,233.8 55.9,233.1 56.3,235.9 56.6,236.0 56.8,236.2 57.8,237.7 58.6,237.9 59.2,238.6 59.6,239.9 60.2,242.2 60.6,242.5 61.2,243.2 61.8,243.8 61.6,246.0 62.4,247.8 62.9,247.0 63.4,248.0 65.0,250.2 65.8,250.7 66.6,251.8 67.3,251.1 68.6,250.8 69.8,251.1 70.7,252.0" fill="none" stroke="#1a1a1a" stroke-width="0.8"/>
<polyline points="14.0,251.7 15.2,251.2 16.4,251.2 17.4,250.4 18.6,250.7 20.1,250.4 21.2,249.1 22.4,248.5 23.4,247.5 24.3,246.7 25.4,245.6 26.3,244.6 27.3,244.2 27.9,243.2 28.7,241.9 29.0,241.1 30.1,239.0 30.5,238.1 30.9,236.9 31.4,235.2 31.9,234.4 32.1,232.9 32.5,231.6 32.8,230.3 33.1,228.3 33.0,227.7 33.2,226.3 33.9,224.7 34.3,224.1 34.3,222.2 34.9,221.2 35.1,220.4 35.6,219.2 36.0,217.4 36.2,216.0 36.3,214.9 36.8,214.1 37.0,213.0 37.5,212.2 37.5,210.1 38.0,209.9 38.1,207.6 38.4,207.1 39.0,205.6 39.3,204.4 39.6,203.9 39.9,202.3 40.2,200.8 40.6,200.0 41.1,198.6 41.5,197.0 41.6,196.8 42.5,194.7 42.9,193.2 42.9,192.6 43.3,191.4 43.9,190.4 44.5,189.3 44.7,187.2 45.2,186.1 45.2,184.8 45.8,183.6 45.8,182.5 46.2,181.5 46.6,180.3 46.6,178.9 46.8,178.3 47.3,176.2 47.6,175.1 47.7,174.3 47.8,172.4 48.2,171.8 48.4,169.8 49.0,168.4 49.1,167.0 49.5,166.3 49.9,165.0 50.6,163.4 50.9,163.1 51.5,161.1 51.7,159.9 52.6,159.4 52.8,158.2 53.4,157.6 54.6,155.7 55.2,155.1 55.8,155.4 55.9,157.0 56.8,158.7 57.0,159.1 57.5,161.3 58.1,161.8 58.9,163.3 59.5,165.1 59.9,166.2 60.4,167.4 60.8,168.4 61.1,169.4 61.5,171.3 62.2,171.5 62.4,173.3 62.5,174.5 63.2,175.8 63.5,177.1 63.9,178.4 64.0,179.6 64.1,180.8 64.4,182.5 64.6,183.8 64.9,184.8 65.0,186.7 65.7,187.4 65.6,188.8 65.8,190.6 66.0,190.8 66.6,192.3 66.5,193.3 66.6,195.2 67.1,195.4 67.2,196.7 67.4,198.0 67.6,200.0 67.9,200.5 67.8,202.3 68.1,202.9 68.3,204.4 68.5,205.8 68.7,207.4 68.8,207.8 69.1,208.9 69.3,211.0 69.8,211.7 69.9,213.6 69.9,213.9 70.0,215.5 70.2,216.5 70.6,217.7 70.7,219.3 71.0,220.3 70.9,221.8 71.4,223.2 71.9,223.7 71.8,225.4 72.1,225.7 72.3,227.4 72.6,228.2 72.9,229.6 72.9,231.1 73.2,232.6 73.4,232.9 73.7,234.0 74.2,236.3 74.0,237.1 74.3,237.8 74.7,239.2 74.9,239.9 75.4,241.6 75.7,243.2 76.1,244.0 76.6,245.0 77.0,245.7 77.6,247.6 78.6,248.7 79.1,250.2 80.6,250.9 82.0,252.0" fill="none" stroke="#222" stroke-width="0.9" stroke-dasharray="2.6 1.2 0.9 1.2"/>
<polyline points="15.5,251.7 16.9,251.4 18.3,251.1 20.0,251.2 21.5,250.3 22.8,250.1 23.4,250.6 24.7,249.6 26.1,248.1 27.1,248.6 28.2,247.5 29.0,246.6 30.1,246.0 30.8,245.6 31.9,243.8 32.4,243.6 33.5,242.8 34.1,241.3 34.6,240.1 35.4,239.0 36.5,238.2 37.0,236.3 37.9,235.9 38.4,235.1 39.5,234.2 40.5,232.2 41.2,231.3 41.7,229.5 42.0,227.9 42.4,227.9 43.3,225.4 43.4,224.6 43.8,223.7 44.2,222.1 44.5,220.3 44.6,219.6 44.9,218.3 45.1,217.2 45.5,215.9 45.3,215.3 45.9,214.1 45.6,212.0 46.2,211.9 46.2,209.3 46.0,209.4 46.5,207.9 47.0,206.7 47.2,205.0 47.9,204.0 47.8,202.2 48.2,200.6 48.9,200.8 49.3,199.4 49.5,196.9 50.3,197.0 50.7,195.8 51.0,194.2 51.0,193.3 51.2,190.8 51.5,189.6 51.8,189.3 51.9,187.6 52.5,186.4 53.2,185.3 53.0,183.1 55.0,181.6 54.9,181.3 54.6,180.3 55.0,179.2 55.2,177.6 55.2,176.5 55.3,174.5 55.6,174.1 55.7,171.9 55.8,171.4 56.3,170.2 56.4,169.1 56.7,167.1 56.8,166.6 56.7,163.6 57.8,166.3 58.1,167.8 58.4,168.6 59.5,169.8 59.5,167.9 59.8,167.7 59.7,165.7 60.4,167.5 60.3,168.9 60.8,169.9 61.0,170.5 60.9,171.7 61.8,172.6 61.9,175.3 62.2,172.9 62.5,171.8 62.5,170.5 62.5,169.7 62.6,168.9 62.8,167.0 62.6,165.6 63.1,165.1 63.7,162.3 63.7,163.7 64.1,164.1 64.0,166.7 64.3,168.2 64.7,169.5 64.4,169.6 65.0,171.9 64.9,173.0 65.2,173.9 65.3,175.6 65.4,176.1 65.6,178.6 65.7,178.5 67.1,181.0 67.7,183.0 67.9,184.1 68.4,185.1 68.6,187.0 68.5,187.2 68.4,189.6 68.6,189.4 68.8,191.7 69.7,193.1 69.8,194.8 70.5,195.8 70.7,197.1 70.8,198.5 70.9,200.0 70.9,200.2 71.1,203.0 71.6,203.7 71.9,205.4 72.1,206.5 72.3,207.2 72.8,208.8 73.2,210.8 73.9,212.4 75.3,213.4 75.5,215.0 75.9,217.1 76.1,218.3 76.5,218.9 76.4,220.3 76.9,222.3 76.4,223.8 77.1,224.8 76.9,226.9 77.1,226.9 77.3,229.1 77.6,230.5 78.1,231.3 78.3,231.8 78.4,233.6 78.9,234.9 79.1,237.0 79.6,237.2 79.9,239.3 80.2,241.2 80.8,241.9 81.3,242.8 81.9,244.7 83.0,246.6 83.2,248.4 84.4,248.6 84.5,249.3 85.8,250.4 86.7,251.3 88.1,250.9 89.2,252.6 90.5,252.5 91.7,251.6 93.1,251.6 94.7,252.0" fill="none" stroke="#000" stroke-width="1.6" stroke-linejoin="round"/>
<line x1="41.8" y1="176.2" x2="86.3" y2="176.2" stroke="#555" stroke-width="1.0"/>
<polygon points="38.8,176.2 43.0,174.2 43.0,178.2" fill="#000"/>
<text x="91.6" y="179.4" textLength="39.3" lengthAdjust="spacingAndGlyphs" style="font-family:'Liberation Serif',serif;font-size:7px" fill="#000" stroke="#000" stroke-width="0.15">Control (1.71)</text>
<line x1="35.5" y1="189.6" x2="86.3" y2="189.6" stroke="#555" stroke-width="1.0"/>
<polygon points="32.5,189.6 36.7,187.6 36.7,191.6" fill="#000"/>
<text x="93.5" y="192.8" textLength="30.5" lengthAdjust="spacingAndGlyphs" style="font-family:'Liberation Serif',serif;font-size:7px" fill="#000" stroke="#000" stroke-width="0.15">TSA (1.57)</text>
<line x1="46.0" y1="203.2" x2="86.3" y2="203.2" stroke="#555" stroke-width="1.0"/>
<polygon points="43.0,203.2 47.2,201.2 47.2,205.2" fill="#000"/>
<text x="94.7" y="206.3" textLength="36.8" lengthAdjust="spacingAndGlyphs" style="font-family:'Liberation Serif',serif;font-size:7px" fill="#000" stroke="#000" stroke-width="0.15">ATRA (3.31)</text>
<line x1="79.3" y1="213.3" x2="89.5" y2="213.3" stroke="#555" stroke-width="1.0"/>
<polygon points="76.3,213.3 80.5,211.3 80.5,215.3" fill="#000"/>
<text x="94.4" y="216.4" textLength="53.7" lengthAdjust="spacingAndGlyphs" style="font-family:'Liberation Serif',serif;font-size:7px" fill="#000" stroke="#000" stroke-width="0.15">ATRA+TSA (4.40)</text>
<text x="155.8" y="196.2" textLength="56.0" lengthAdjust="spacingAndGlyphs" style="font-family:'Liberation Serif',serif;font-size:11.5px" fill="#111" >NB4-MRA1</text>
<line x1="11.3" y1="285" x2="11.3" y2="387.3" stroke="#111" stroke-width="1.4"/>
<line x1="10.3" y1="387.3" x2="138" y2="387.3" stroke="#222" stroke-width="1"/>
<text x="11.8" y="391.2" text-anchor="middle" style="font-family:'Liberation Serif',serif;font-size:3.8px" fill="#111" stroke="#111" stroke-width="0.1">10<tspan dy="-1.3" font-size="2.6px">0</tspan></text>
<line x1="11.5" y1="387.3" x2="11.5" y2="386.0" stroke="#222" stroke-width="0.6"/>
<text x="43.599999999999994" y="391.2" text-anchor="middle" style="font-family:'Liberation Serif',serif;font-size:3.8px" fill="#111" stroke="#111" stroke-width="0.1">10<tspan dy="-1.3" font-size="2.6px">1</tspan></text>
<line x1="43.3" y1="387.3" x2="43.3" y2="386.0" stroke="#222" stroke-width="0.6"/>
<text x="75.89999999999999" y="391.2" text-anchor="middle" style="font-family:'Liberation Serif',serif;font-size:3.8px" fill="#111" stroke="#111" stroke-width="0.1">10<tspan dy="-1.3" font-size="2.6px">2</tspan></text>
<line x1="75.6" y1="387.3" x2="75.6" y2="386.0" stroke="#222" stroke-width="0.6"/>
<text x="107.0" y="391.2" text-anchor="middle" style="font-family:'Liberation Serif',serif;font-size:3.8px" fill="#111" stroke="#111" stroke-width="0.1">10<tspan dy="-1.3" font-size="2.6px">3</tspan></text>
<line x1="106.7" y1="387.3" x2="106.7" y2="386.0" stroke="#222" stroke-width="0.6"/>
<text x="138.20000000000002" y="391.2" text-anchor="middle" style="font-family:'Liberation Serif',serif;font-size:3.8px" fill="#111" stroke="#111" stroke-width="0.1">10<tspan dy="-1.3" font-size="2.6px">4</tspan></text>
<line x1="137.9" y1="387.3" x2="137.9" y2="386.0" stroke="#222" stroke-width="0.6"/>
<text x="74.4" y="395.7" text-anchor="middle" style="font-family:'Liberation Sans',sans-serif;font-size:3.6px" fill="#222">CD11b</text>
<text transform="translate(6.6000000000000005,336.15) rotate(-90)" text-anchor="middle" style="font-family:'Liberation Sans',sans-serif;font-size:3.6px" fill="#111" stroke="#111" stroke-width="0.1">Events</text>
<rect x="6.9" y="283.7" width="2.2" height="2.6" fill="#777"/>
<polyline points="10.6,376.5 10.4,375.2 11.3,373.5 11.5,374.3 11.4,372.2 11.9,371.6 11.8,370.1 12.3,369.7 11.8,368.2 12.7,367.4 12.7,365.9 12.6,364.8 12.7,364.9 13.3,363.5 13.8,362.4 13.7,362.4 14.4,361.2 14.6,359.9 15.0,358.9 14.9,358.2 15.7,357.1 16.1,355.7 16.2,354.4 16.5,354.0 16.9,352.2 17.1,351.1 17.5,350.8 18.1,350.7 18.3,348.4 18.3,347.9 18.9,346.0 18.6,345.3 18.8,344.5 19.2,343.4 19.5,342.9 20.2,342.4 20.0,341.7 20.6,340.2 20.6,339.2 21.1,337.0 21.0,337.1 20.9,336.1 21.9,335.3 21.4,334.8 22.1,333.2 22.2,331.0 22.1,330.1 22.3,328.7 22.8,329.5 23.3,328.4 23.4,326.0 23.4,326.7 23.2,324.4 23.6,323.7 24.1,322.3 23.9,322.1 24.3,320.1 24.6,320.3 25.0,319.2 24.8,318.4 25.2,317.4 25.0,315.5 25.7,314.6 25.5,314.4 25.5,313.0 26.1,312.1 26.7,311.5 27.0,309.0 27.3,308.3 26.9,309.1 27.1,306.6 27.9,307.0 28.2,306.1 28.4,303.8 28.5,302.8 29.3,302.0 29.6,300.8 30.3,300.3 30.4,299.2 30.9,298.4 31.0,297.8 31.4,295.6 32.6,295.2 33.0,294.6 33.7,294.4 33.7,292.0 33.9,293.6 34.0,294.8 34.8,295.4 34.5,296.2 34.8,298.3 35.4,299.7 35.5,300.7 35.5,300.9 36.3,301.0 35.8,302.4 36.4,305.1 36.9,305.3 36.5,306.7 37.0,306.7 36.7,308.6 37.1,308.7 37.5,309.3 37.1,311.7 37.6,312.5 37.6,312.5 37.8,315.1 37.7,316.0 38.2,317.6 37.8,317.7 37.9,318.2 38.2,319.5 38.4,320.0 38.5,320.8 38.5,322.6 39.3,323.8 39.4,325.1 39.2,324.8 39.6,326.1 39.5,327.6 39.1,329.3 39.8,328.8 39.5,331.4 39.3,330.6 40.0,333.3 40.1,333.4 39.6,335.4 40.5,336.2 40.5,337.5 40.4,337.6 40.7,337.9 40.4,340.1 40.4,339.7 41.1,341.5 41.2,342.7 40.8,343.0 40.9,344.2 41.1,346.4 41.5,346.4 41.8,347.6 41.9,349.2 41.6,349.6 42.2,350.7 42.0,352.8 41.7,352.8 42.3,354.6 42.0,354.6 42.6,355.7 42.3,356.3 42.7,357.8 42.4,357.7 43.1,359.5 42.7,360.5 43.0,361.2 43.1,363.4 43.3,364.9 43.2,364.1 43.8,365.8 44.1,367.4 43.7,367.9 44.0,369.7 44.2,369.2 44.9,371.1 44.8,371.5 45.3,371.8 45.2,374.4 46.0,374.4 45.7,376.5 46.5,378.1 46.4,378.5 46.7,380.1 47.8,380.3 47.6,381.7 48.2,381.1 49.4,382.0 49.6,383.8 50.1,384.4 50.9,385.5 52.1,385.9 53.2,387.3 54.0,387.0" fill="none" stroke="#1a1a1a" stroke-width="0.8"/>
<polyline points="11.5,383.0 11.6,382.6 12.6,380.9 12.8,379.8 13.5,378.5 13.5,377.7 13.6,377.8 14.3,375.0 14.4,375.0 15.4,373.9 15.9,374.0 15.6,372.8 16.3,370.9 17.0,369.1 17.4,368.7 17.3,368.6 17.9,366.8 17.9,365.5 18.4,365.0 19.2,363.7 19.1,363.7 19.7,361.2 19.4,360.7 20.5,360.8 20.4,358.7 20.7,359.1 20.7,356.9 21.6,355.2 21.3,355.9 21.6,354.5 22.1,353.7 22.4,352.6 22.6,350.2 22.3,350.4 22.7,348.0 23.5,348.5 23.6,346.9 23.2,346.4 23.9,344.8 23.8,343.9 23.6,343.4 24.1,341.7 24.4,340.9 24.4,339.3 24.3,338.6 25.2,338.3 24.9,336.8 25.1,335.3 25.1,334.3 25.4,334.6 25.8,331.9 25.7,330.4 26.3,330.6 25.8,329.0 25.9,329.4 26.5,327.2 26.6,327.4 26.7,324.7 26.7,324.0 27.2,324.1 27.2,322.7 28.0,321.6 28.2,319.6 28.2,318.7 28.2,319.2 28.3,318.2 29.0,316.1 28.4,315.5 29.0,313.5 28.8,312.9 29.2,313.0 29.5,312.2 29.7,309.6 30.4,310.0 30.0,308.4 30.2,307.4 30.2,306.0 31.2,304.2 30.8,304.9 30.8,303.6 31.5,303.0 31.5,301.8 32.1,300.2 31.6,298.9 32.6,297.5 32.0,296.8 32.3,296.4 33.1,295.1 33.1,293.7 33.7,294.2 33.2,293.0 34.0,292.2 34.6,291.4 35.0,292.3 34.5,293.1 35.2,295.0 35.7,296.2 36.0,296.1 36.5,297.5 36.6,299.2 36.9,299.1 36.5,300.5 37.2,301.8 37.1,302.6 37.0,304.3 37.4,304.3 37.8,306.6 37.9,306.5 38.1,308.9 37.7,308.5 38.5,311.3 38.7,310.8 38.8,312.5 39.0,313.1 38.9,314.1 39.3,315.0 39.0,317.2 39.1,316.5 39.3,319.0 39.9,318.4 39.3,320.3 39.8,322.0 40.2,323.2 40.4,324.2 40.4,324.2 40.4,325.5 40.5,325.8 40.8,326.5 40.7,327.8 41.0,330.2 40.8,331.3 41.4,330.5 41.4,332.1 41.1,333.3 41.3,334.6 41.5,336.1 41.5,335.8 41.9,336.6 41.6,337.8 41.7,339.7 42.2,341.4 41.9,341.2 42.1,343.1 42.1,343.9 42.4,344.7 42.3,346.5 42.2,347.2 42.4,347.1 42.3,349.5 42.8,349.1 43.0,351.1 43.0,350.8 42.9,353.2 43.7,352.9 43.2,353.7 44.1,355.1 43.9,356.5 44.5,358.0 44.0,357.9 44.6,359.7 44.6,360.2 44.4,362.2 44.6,362.7 44.7,365.0 45.4,364.4 45.6,365.6 46.2,366.9 45.9,368.4 46.3,368.6 46.7,370.9 46.8,371.8 47.0,373.3 47.7,373.5 47.6,375.1 48.1,376.1 48.0,376.0 48.5,378.0 49.2,378.0 49.6,378.4 50.1,381.3 50.5,381.8 51.5,381.6 52.4,382.6 52.7,384.7 54.1,383.5 54.6,385.6 55.0,384.7 56.4,386.7 57.1,387.0" fill="none" stroke="#000" stroke-width="1" stroke-dasharray="1 0.8"/>
<polyline points="12.0,384.0 12.5,382.8 13.1,381.4 13.9,380.6 14.4,379.5 15.2,378.2 15.6,378.1 16.5,376.8 16.9,375.1 17.5,374.8 18.1,372.9 18.9,372.7 19.5,370.7 20.1,370.1 20.7,368.5 20.9,368.0 21.4,366.4 22.0,364.9 22.5,364.0 22.8,363.5 23.3,361.7 23.6,360.7 24.2,359.4 25.0,357.9 25.1,357.4 25.5,355.5 25.9,354.7 25.9,353.8 26.3,352.7 26.7,351.1 26.7,349.8 27.3,348.3 27.3,347.4 27.9,345.9 28.3,345.0 28.6,344.6 28.9,342.6 29.2,341.9 29.2,341.0 29.8,339.2 29.7,337.9 30.2,336.4 30.7,335.5 30.8,334.0 31.2,333.6 31.5,332.6 31.9,331.4 32.0,330.2 32.3,328.5 32.5,327.1 33.2,326.1 33.7,324.7 34.5,324.1 35.1,322.2 36.6,321.6 37.7,321.4 38.0,322.7 38.4,323.5 38.6,325.4 39.3,325.8 39.3,327.1 39.9,328.5 40.2,329.9 40.5,331.1 40.8,332.2 40.9,333.5 41.5,335.7 41.6,336.3 41.6,337.3 42.3,339.0 42.4,339.8 42.4,342.0 42.8,343.0 43.3,344.5 43.6,345.9 43.8,346.3 43.8,348.1 44.2,349.0 44.4,350.5 44.6,352.5 44.8,353.6 45.2,354.7 45.5,355.7 45.7,356.7 46.0,358.3 46.6,360.1 46.9,361.2 46.9,361.9 47.6,363.1 48.0,364.9 48.0,366.0 48.7,367.7 49.0,368.7 49.3,369.9 50.0,371.8 50.1,372.5 50.7,374.3 51.3,375.3 52.1,375.6 52.8,376.7 53.2,377.8 53.7,378.7 54.3,380.6 55.2,380.8 56.2,381.5 57.2,382.7 58.0,384.1 59.1,385.2 59.8,385.4 61.0,386.3 62.3,386.9 64.0,387.0" fill="none" stroke="#222" stroke-width="0.9" stroke-dasharray="2.5 1.3"/>
<polyline points="11.2,385.0 12.8,383.8 13.6,382.9 14.4,382.0 15.4,380.3 16.7,379.7 17.6,379.6 18.3,377.7 18.4,377.6 19.2,376.1 20.2,374.3 20.8,374.3 21.5,372.5 21.8,371.6 22.2,369.7 23.3,368.7 23.7,367.2 24.2,366.7 24.2,365.7 25.2,363.7 25.6,362.9 26.1,360.6 26.4,359.8 26.6,358.8 26.8,357.4 27.7,356.7 27.9,355.0 28.1,353.9 28.5,351.8 29.0,351.8 28.8,350.2 29.2,348.2 29.9,347.4 30.1,346.2 30.0,344.6 30.8,343.1 30.8,342.9 30.8,341.3 30.9,339.0 31.3,337.7 31.8,338.0 31.7,335.6 32.0,334.0 32.5,333.0 32.7,331.8 33.0,331.4 33.7,329.4 34.1,328.3 34.6,327.0 34.9,325.2 35.6,325.3 36.3,323.7 37.8,320.9 38.5,322.8 39.7,324.3 40.2,325.3 40.2,327.4 40.8,327.7 40.9,329.7 41.1,330.7 41.6,332.2 42.4,334.3 43.0,334.4 43.1,336.6 43.3,338.3 43.6,339.1 43.8,340.9 44.1,341.6 44.7,343.1 45.4,344.6 45.6,346.9 45.6,347.6 46.2,348.9 46.6,350.4 47.2,351.6 47.6,353.3 48.3,354.7 49.0,353.2 49.3,354.8 49.9,356.5 50.0,357.0 50.8,357.6 50.9,359.7 52.0,359.9 52.5,362.4 52.9,363.0 54.0,364.4 54.3,366.5 54.8,367.2 55.7,369.7 56.4,370.7 57.1,370.7 57.8,372.0 58.2,373.6 59.1,375.6 59.5,376.4 59.8,377.5 60.2,379.5 61.4,379.6 62.0,379.3 63.2,378.8 63.5,379.5 63.8,380.3 63.8,382.1 64.6,382.8 65.6,384.8 67.5,385.5 68.8,385.2 70.1,385.4 71.4,385.4 73.0,386.4 74.6,386.6 75.8,386.3 77.4,387.6 78.7,386.9 80.0,387.0" fill="none" stroke="#000" stroke-width="1.6" stroke-linejoin="round"/>
<line x1="40.3" y1="302.1" x2="62.7" y2="302.1" stroke="#6a6a6a" stroke-width="1.3"/>
<polygon points="37.3,302.1 41.5,300.1 41.5,304.1" fill="#000"/>
<text x="66.8" y="305.4" textLength="38.8" lengthAdjust="spacingAndGlyphs" style="font-family:'Liberation Serif',serif;font-size:7px" fill="#000" stroke="#000" stroke-width="0.15">Control (1.19)</text>
<line x1="42.6" y1="312.3" x2="62.7" y2="312.3" stroke="#6a6a6a" stroke-width="1.3"/>
<polygon points="39.6,312.3 43.800000000000004,310.3 43.800000000000004,314.3" fill="#000"/>
<text x="66.8" y="316.0" textLength="31.3" lengthAdjust="spacingAndGlyphs" style="font-family:'Liberation Serif',serif;font-size:7px" fill="#000" stroke="#000" stroke-width="0.15">TSA (1.19)</text>
<line x1="40.7" y1="321.9" x2="62.7" y2="321.9" stroke="#6a6a6a" stroke-width="1.3"/>
<polygon points="37.7,321.9 41.900000000000006,319.9 41.900000000000006,323.9" fill="#000"/>
<text x="66.8" y="327.6" textLength="37.6" lengthAdjust="spacingAndGlyphs" style="font-family:'Liberation Serif',serif;font-size:7px" fill="#000" stroke="#000" stroke-width="0.15">ATRA (1.58)</text>
<line x1="46.5" y1="336.0" x2="62.7" y2="336.0" stroke="#6a6a6a" stroke-width="1.3"/>
<polygon points="43.5,336.0 47.7,334.0 47.7,338.0" fill="#000"/>
<text x="66.8" y="337.9" textLength="54.5" lengthAdjust="spacingAndGlyphs" style="font-family:'Liberation Serif',serif;font-size:7px" fill="#000" stroke="#000" stroke-width="0.15">ATRA+TSA (1.65)</text>
<text x="155.6" y="334.6" textLength="23.0" lengthAdjust="spacingAndGlyphs" style="font-family:'Liberation Serif',serif;font-size:11.5px" fill="#111" >UF-1</text>
</svg>
</body></html>
